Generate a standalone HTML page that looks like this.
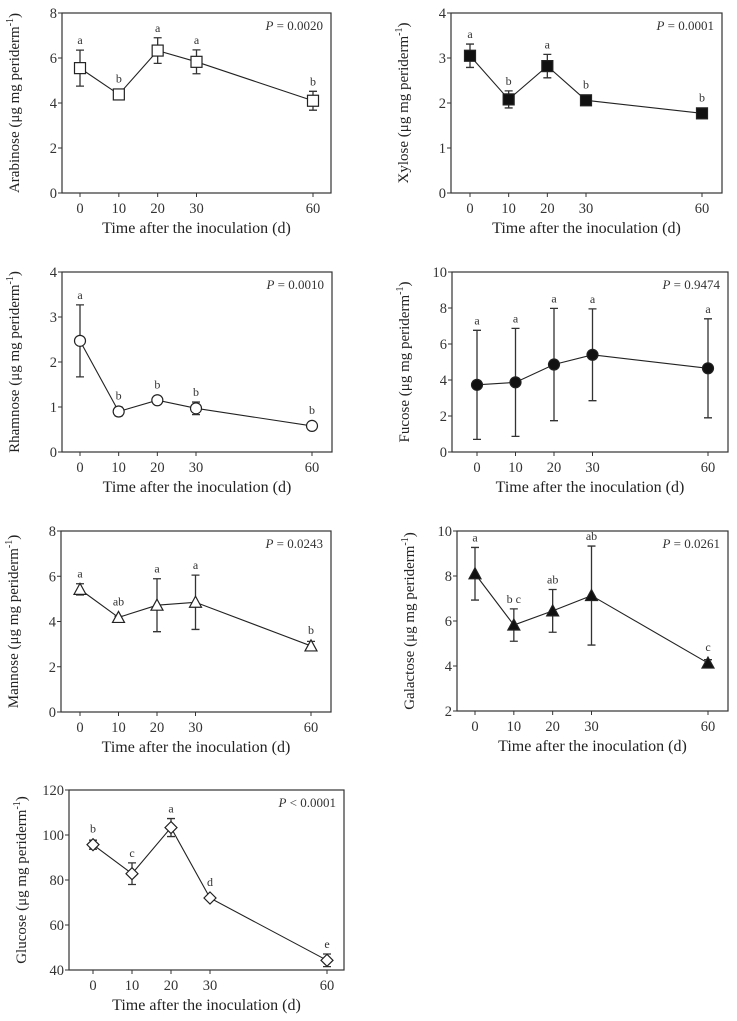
<!DOCTYPE html>
<html><head><meta charset="utf-8"><style>
body{margin:0;background:#fff}
svg{display:block;font-family:"Liberation Serif",serif}
</style></head><body>
<svg id="s" width="737" height="1021" viewBox="0 0 737 1021"></svg>
<script>
const days=[0,10,20,30,60];
const arabMean=[5.55,4.38,6.33,5.83,4.1], arabErr=[0.8,0.1,0.57,0.53,0.42], arabLet=["a","b","a","a","b"];
const xylMean=[3.05,2.08,2.82,2.06,1.77], xylErr=[0.26,0.19,0.26,0.05,0.1], xylLet=["a","b","a","b","b"];
const rhaMean=[2.47,0.9,1.15,0.97,0.58], rhaErr=[0.8,0.1,0.08,0.14,0.03], rhaLet=["a","b","b","b","b"];
const fucMean=[3.73,3.87,4.86,5.4,4.65], fucErr=[3.03,3.0,3.12,2.55,2.75], fucLet=["a","a","a","a","a"];
const manMean=[5.42,4.18,4.72,4.85,2.92], manErr=[0.25,0.05,1.17,1.2,0.2], manLet=["a","ab","a","a","b"];
const galMean=[8.1,5.82,6.45,7.13,4.13], galErr=[1.17,0.72,0.95,2.2,0.15], galLet=["a","b c","ab","ab","c"];
const gluMean=[95.7,82.8,103.3,72,44.3], gluErr=[2,4.8,4,0.5,2.8], gluLet=["b","c","a","d","e"];
const arabTicks=[0,2,4,6,8], xylTicks=[0,1,2,3,4], rhaTicks=[0,1,2,3,4], fucTicks=[0,2,4,6,8,10], manTicks=[0,2,4,6,8], galTicks=[2,4,6,8,10], gluTicks=[40,60,80,100,120];

const S=document.getElementById('s'),NS="http://www.w3.org/2000/svg";
function el(t,a,p){const e=document.createElementNS(NS,t);for(const k in a)e.setAttribute(k,a[k]);(p||S).appendChild(e);return e;}
const panels=[
 {n:"arabinose",name:"Arabinose",L:62,R:331,T:13,B:193,x0:80,x60:313,mean:arabMean,err:arabErr,lets:arabLet,ticks:arabTicks,p:"0.0020",op:"=",m:"sq",fill:"#fff"},
 {n:"xylose",name:"Xylose",L:451,R:722,T:13,B:193,x0:470,x60:702,mean:xylMean,err:xylErr,lets:xylLet,ticks:xylTicks,p:"0.0001",op:"=",m:"sq",fill:"#111"},
 {n:"rhamnose",name:"Rhamnose",L:62,R:332,T:272,B:452,x0:80,x60:312,mean:rhaMean,err:rhaErr,lets:rhaLet,ticks:rhaTicks,p:"0.0010",op:"=",m:"ci",fill:"#fff"},
 {n:"fucose",name:"Fucose",L:452,R:728,T:272,B:452,x0:477,x60:708,mean:fucMean,err:fucErr,lets:fucLet,ticks:fucTicks,p:"0.9474",op:"=",m:"ci",fill:"#111"},
 {n:"mannose",name:"Mannose",L:61,R:331,T:531,B:712,x0:80,x60:311,mean:manMean,err:manErr,lets:manLet,ticks:manTicks,p:"0.0243",op:"=",m:"tr",fill:"#fff"},
 {n:"galactose",name:"Galactose",L:457,R:728,T:531,B:711,x0:475,x60:708,mean:galMean,err:galErr,lets:galLet,ticks:galTicks,p:"0.0261",op:"=",m:"tr",fill:"#111"},
 {n:"glucose",name:"Glucose",L:69,R:344,T:790,B:970,x0:93,x60:327,mean:gluMean,err:gluErr,lets:gluLet,ticks:gluTicks,p:"0.0001",op:"<",m:"di",fill:"#fff"}
];
panels.forEach(P=>{
 const g=el('g',{});
 
 
 const lo=P.ticks[0],hi=P.ticks[P.ticks.length-1];
 const y=v=>P.B-(v-lo)/(hi-lo)*(P.B-P.T);
 const x=d=>P.x0+d*(P.x60-P.x0)/60;
 const box=el('rect',{x:P.L,y:P.T,width:P.R-P.L,height:P.B-P.T,fill:'none',stroke:'#333','stroke-width':1.2},g);
 
 
 P.ticks.forEach(t=>{
  el('line',{x1:P.L-4,x2:P.L,y1:y(t),y2:y(t),stroke:'#333'},g);
  const tx=el('text',{x:P.L-5,y:y(t)+5,'text-anchor':'end','font-size':14.5,fill:'#333'},g);tx.textContent=t;
  
  
 });
 days.forEach(d=>{
  el('line',{x1:x(d),x2:x(d),y1:P.B,y2:P.B+4,stroke:'#333'},g);
  const tx=el('text',{x:x(d),y:P.B+20,'text-anchor':'middle','font-size':14.5,fill:'#333'},g);tx.textContent=d;
  
  
 });
 const xt=el('text',{x:(P.L+P.R)/2,y:P.B+40,'text-anchor':'middle','font-size':16,fill:'#222'},g);
 xt.textContent='Time after the inoculation (d)';
 
 
 const cy=(P.T+P.B)/2, cx=P.L-43;
 const yt=el('text',{x:cx,y:cy,'text-anchor':'middle','font-size':15,fill:'#222',transform:`rotate(-90 ${cx} ${cy})`},g);
 yt.innerHTML=P.name+' (μg mg periderm<tspan dy="-6" font-size="10">-1</tspan><tspan dy="6">)</tspan>';
 
 
 const pt=el('text',{x:P.R-8,y:P.T+17,'text-anchor':'end','font-size':13,fill:'#333'},g);
 pt.innerHTML='<tspan font-style="italic">P</tspan> '+P.op+' '+P.p;
 
 
 let pts=days.map((d,i)=>x(d)+','+y(P.mean[i])).join(' ');
 const ln=el('polyline',{points:pts,fill:'none',stroke:'#222','stroke-width':1.1},g);
 
 
 days.forEach((d,i)=>{
  const X=x(d),hiY=y(P.mean[i]+P.err[i]),loY=y(P.mean[i]-P.err[i]);
  const eb=el('path',{d:`M${X},${hiY}V${loY}M${X-4},${hiY}H${X+4}M${X-4},${loY}H${X+4}`,stroke:'#333','stroke-width':1.3,fill:'none'},g);
  
  
  const Y=y(P.mean[i]);let mk;
  const st={fill:P.fill,stroke:'#222','stroke-width':1.2};
  if(P.m=='sq')mk=el('rect',Object.assign({x:X-5.5,y:Y-5.5,width:11,height:11},st),g);
  else if(P.m=='ci')mk=el('circle',Object.assign({cx:X,cy:Y,r:5.5},st),g);
  else if(P.m=='tr')mk=el('polygon',Object.assign({points:`${X},${Y-6} ${X-6},${Y+5} ${X+6},${Y+5}`},st),g);
  else mk=el('polygon',Object.assign({points:`${X},${Y-6} ${X+6},${Y} ${X},${Y+6} ${X-6},${Y}`},st),g);
  
  
  const lt=el('text',{x:X,y:Math.min(hiY,Y-6)-6,'text-anchor':'middle','font-size':12,fill:'#333'},g);
  lt.textContent=P.lets[i];
  
  
 });
});
</script>
</body></html>
